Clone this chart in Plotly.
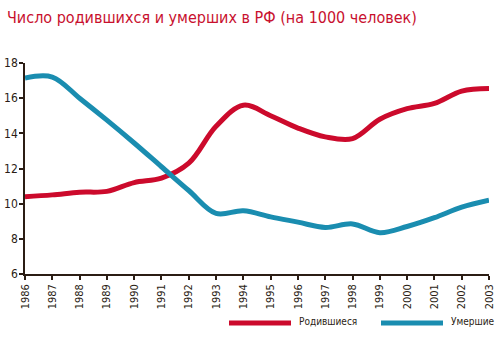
import plotly.graph_objects as go

# Годы и показатели на 1000 человек
years = list(range(1986, 2004))
births = [10.4, 10.5, 10.65, 10.7, 11.2, 11.45, 12.3, 14.4, 15.6, 15.0, 14.3, 13.8,
          13.7, 14.8, 15.4, 15.7, 16.4, 16.55]
deaths = [17.15, 17.2, 16.0, 14.75, 13.45, 12.1, 10.75, 9.45, 9.6, 9.25, 8.95, 8.65,
          8.85, 8.35, 8.7, 9.2, 9.8, 10.2]
y_ticks = [6, 8, 10, 12, 14, 16, 18]

RED = "#cc0a2c"
BLUE = "#1a8db0"
AXIS = "#2b1d14"
FONT = "DejaVu Sans Condensed, DejaVu Sans"

fig = go.Figure()
fig.add_trace(go.Scatter(x=years, y=births, mode="lines", name="Родившиеся",
                         line=dict(color=RED, width=5, shape="spline", smoothing=1.0),
                         cliponaxis=False, hoverinfo="skip"))
fig.add_trace(go.Scatter(x=years, y=deaths, mode="lines", name="Умершие",
                         line=dict(color=BLUE, width=5, shape="spline", smoothing=1.0),
                         cliponaxis=False, hoverinfo="skip"))

axis_common = dict(showgrid=False, zeroline=False, linecolor=AXIS, linewidth=1.5,
                   tickcolor=AXIS, tickwidth=1.5, automargin=False)

fig.update_layout(
    width=500, height=339,
    margin=dict(l=25, r=11, t=63, b=65),
    paper_bgcolor="white", plot_bgcolor="white",
    showlegend=False,
    font=dict(family=FONT, color=AXIS, size=11),
    xaxis=dict(range=[1986, 2003], tickmode="array", tickvals=years,
               ticktext=[str(y) for y in years], tickangle=-90,
               ticks="outside", ticklen=4, showline=True,
               tickfont=dict(family=FONT, size=11, color=AXIS), **axis_common),
    yaxis=dict(range=[6, 18], tickmode="array", tickvals=y_ticks,
               ticks="outside", ticklen=4, showline=True, ticklabelstandoff=-1,
               tickfont=dict(family=FONT, size=12, color=AXIS), **axis_common),
    # inner halves of the crossing tick marks
    xaxis2=dict(range=[1986, 2003], overlaying="x", anchor="y", side="bottom",
                tickmode="array", tickvals=years, ticks="inside", ticklen=6,
                showticklabels=False, showline=False, **axis_common),
    yaxis2=dict(range=[6, 18], overlaying="y", anchor="x", side="left",
                tickmode="array", tickvals=y_ticks, ticks="inside", ticklen=4,
                showticklabels=False, showline=False, **axis_common),
)

fig.add_annotation(text="Число родившихся и умерших в РФ (на 1000 человек)",
                   xref="paper", yref="paper", x=-20 / 464, y=1 + 45 / 211,
                   xanchor="left", yanchor="middle", showarrow=False,
                   font=dict(family=FONT, size=16, color="#c8102e"))

# legend drawn below the axis
legend_items = [("Родившиеся", RED, 229, 291, 297),
                ("Умершие", BLUE, 381, 443, 449)]
for label, color, x0, x1, xt in legend_items:
    fig.add_shape(type="line", xref="paper", yref="paper",
                  x0=(x0 - 25) / 464, x1=(x1 - 25) / 464,
                  y0=-(323 - 274) / 211, y1=-(323 - 274) / 211,
                  line=dict(color=color, width=5))
    fig.add_annotation(text=label, xref="paper", yref="paper",
                       x=(xt - 25) / 464, y=-(321 - 274) / 211,
                       xanchor="left", yanchor="middle", showarrow=False,
                       font=dict(family=FONT, size=10, color=AXIS))

fig.write_html("out.html")
